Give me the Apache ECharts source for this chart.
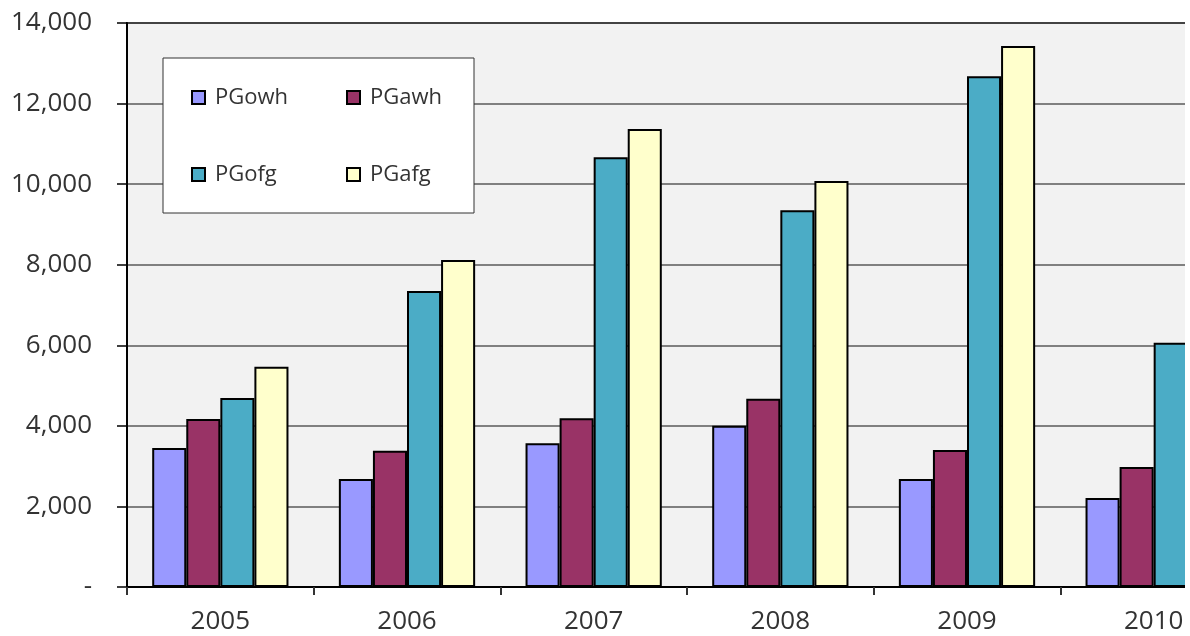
<!DOCTYPE html>
<html>
<head>
<meta charset="utf-8">
<script src="https://cdn.jsdelivr.net/npm/echarts@6/dist/echarts.min.js"></script>
<style>
  html, body { margin: 0; padding: 0; background: #fff; }
  #main { width: 1185px; height: 636px; }
</style>
</head>
<body>
<div id="main"></div>
<script>
var dom = document.getElementById('main');
var myChart = echarts.init(dom, null, { renderer: 'canvas' });

// data
var years = ['2005', '2006', '2007', '2008', '2009', '2010'];
var pgowh = [3450, 2680, 3570, 4000, 2680, 2210];
var pgawh = [4170, 3380, 4190, 4670, 3400, 2980];
var pgofg = [4690, 7350, 10670, 9350, 12680, 6060];
var pgafg = [5470, 8120, 11370, 10080, 13430, 6800]; // 2010 is cut off in the picture
var seriesNames = ['PGowh', 'PGawh', 'PGofg', 'PGafg'];
var seriesColors = ['#9999ff', '#993366', '#4bacc6', '#ffffcc'];
var seriesData = [pgowh, pgawh, pgofg, pgafg];

var fontFam = '"Open Sans", "Liberation Sans", sans-serif';

var option = {
    animation: false,
    backgroundColor: '#ffffff',
    grid: {
        left: 127,
        top: 23,
        bottom: 49,
        right: -62,
        outerBoundsMode: 'none',
        containLabel: false,
        show: true,
        backgroundColor: '#f2f2f2',
        borderColor: '#000',
        borderWidth: 2
    },
    legend: {
        data: seriesNames,
        left: 163,
        top: 58,
        width: 280,
        orient: 'horizontal',
        padding: [19, 9, 18, 28],
        itemGap: 36,
        itemWidth: 13,
        itemHeight: 13,
        icon: 'rect',
        backgroundColor: '#fff',
        borderColor: '#333',
        borderWidth: 1,
        textStyle: {
            fontFamily: fontFam,
            fontSize: 22,
            color: '#333',
            width: 95,
            lineHeight: 41,
            padding: [0, 0, 0, 5]
        }
    },
    xAxis: {
        type: 'category',
        data: years,
        axisLine: { lineStyle: { color: '#000', width: 2 } },
        axisTick: { show: true, length: 8, lineStyle: { color: '#333', width: 2 } },
        axisLabel: {
            margin: 22,
            fontFamily: fontFam,
            fontSize: 26,
            color: '#333'
        },
        splitLine: { show: false }
    },
    yAxis: {
        type: 'value',
        min: 0,
        max: 14000,
        interval: 2000,
        axisLine: { show: true, lineStyle: { color: '#000', width: 2 } },
        axisTick: { show: true, length: 10, lineStyle: { color: '#000', width: 1.5 } },
        axisLabel: {
            margin: 35,
            fontFamily: fontFam,
            fontSize: 26,
            color: '#333',
            formatter: function (v) {
                if (v === 0) return '-';
                return v.toLocaleString('en-US');
            }
        },
        splitLine: { show: true, lineStyle: { color: '#5a5a5a', width: 1.5 } }
    },
    series: seriesNames.map(function (name, i) {
        return {
            name: name,
            type: 'bar',
            barGap: '0%',
            barCategoryGap: '27%',
            itemStyle: {
                color: seriesColors[i],
                borderColor: '#000',
                borderWidth: 2
            },
            data: seriesData[i]
        };
    })
};

myChart.setOption(option);
window.addEventListener('resize', myChart.resize);
</script>
</body>
</html>
